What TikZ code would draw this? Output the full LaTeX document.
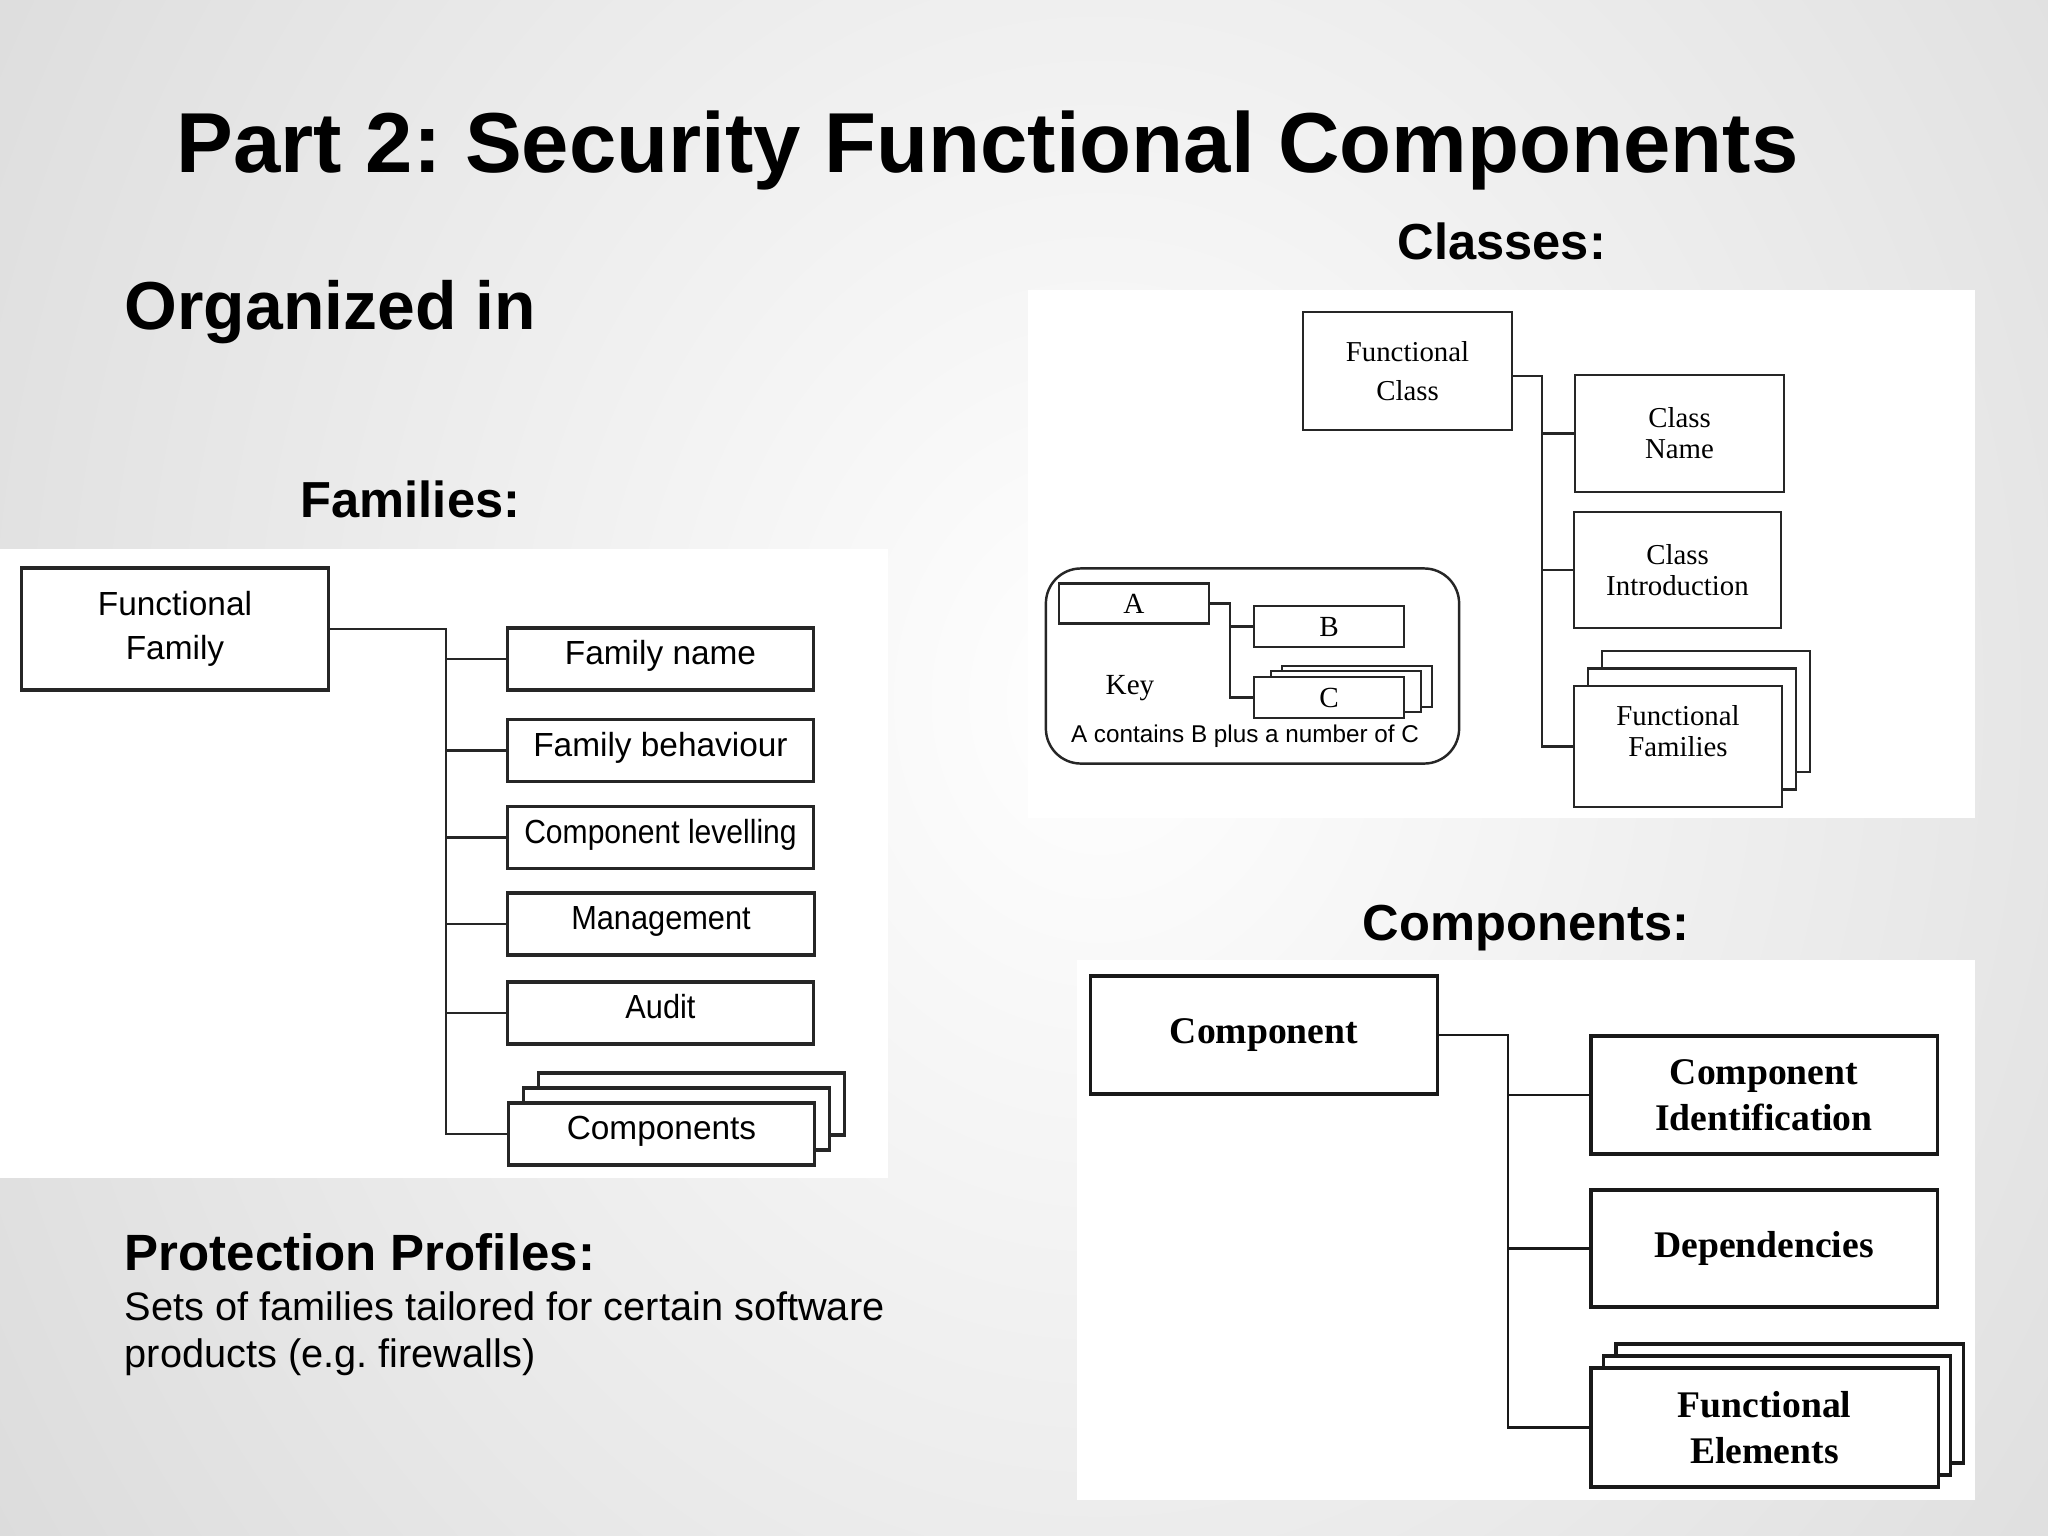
\documentclass[tikz,border=0pt]{standalone}
\usepackage{fontspec}
\setmainfont{Liberation Sans}
\newfontfamily\tnr{Liberation Serif}
\usetikzlibrary{calc}
\frenchspacing
\begin{document}
\begin{tikzpicture}[x=0.01cm,y=-0.01cm,
  panel/.style={fill=white,draw=none},
  hd/.style={anchor=base west,inner sep=0pt,font=\bfseries\fontsize{14.4pt}{17pt}\selectfont},
  fbox/.style={draw=black!85,line width=0.9pt,fill=white,inner sep=0pt,minimum width=3.06cm,minimum height=0.62cm,font=\fontsize{9.5pt}{12.6pt}\selectfont,align=center},
  cbox/.style={draw=black!85,line width=0.7pt,fill=white,inner sep=0pt,minimum width=2.08cm,minimum height=1.17cm,font=\tnr\fontsize{8.2pt}{8.8pt}\selectfont,align=center},
  kbox/.style={draw=black!85,line width=0.6pt,fill=white,inner sep=0pt,minimum width=1.5cm,minimum height=0.4cm,font=\tnr\fontsize{8.3pt}{9pt}\selectfont},
  pbox/.style={draw=black!90,line width=0.9pt,fill=white,inner sep=0pt,minimum width=3.46cm,minimum height=1.18cm,font=\tnr\bfseries\fontsize{10.7pt}{13pt}\selectfont,align=center},
  fconn/.style={draw=black!85,line width=0.8pt},
  cconn/.style={draw=black!85,line width=0.6pt},
  pconn/.style={draw=black!90,line width=0.8pt}
]
\useasboundingbox (0,0) rectangle (2048,1536);
% background
\begin{scope}
\clip (0,0) rectangle (2048,1536);
\fill[black!22] (0,0) rectangle (2048,1536);
\shade[inner color=white,outer color=black!24] (1100-2300,700-2700) rectangle (1100+2300,700+2700);
\end{scope}

% titles
\node[anchor=base west,inner sep=0pt,font=\bfseries\fontsize{24.2pt}{29pt}\selectfont] (title) at (176,172) {Part 2: Security Functional Components};
\node[anchor=base west,inner sep=0pt,font=\bfseries\fontsize{19.3pt}{23pt}\selectfont] (org) at (124,329) {Organized in};
\node[hd] (famh) at (300,517) {Families:};
\node[hd] (clah) at (1397,259) {Classes:};
\node[hd] (comh) at (1362,940) {Components:};
\node[hd,font=\bfseries\fontsize{14.5pt}{17pt}\selectfont] (pph) at (124,1270) {Protection Profiles:};
\node[anchor=base west,inner sep=0pt,font=\fontsize{11.3pt}{13.4pt}\selectfont] (pp1) at (124,1320) {Sets of families tailored for certain software};
\node[anchor=base west,inner sep=0pt,font=\fontsize{11.3pt}{13.4pt}\selectfont] (pp2) at (124,1367) {products (e.g. firewalls)};

% ---------------- Families panel
\fill[panel] (0,549) rectangle (888,1178);
\node[fbox,minimum width=3.06cm,minimum height=1.22cm] (ff) at (175,629) {Functional\\Family};
\node[fbox] (fn) at (660.5,659) {\raisebox{3.5pt}{Family name}};
\node[fbox] (fb) at (660.5,750.5) {\raisebox{3.5pt}{Family behaviour}};
\node[fbox] (fl) at (660.5,837.5) {\raisebox{3.5pt}{\scalebox{0.9}[1]{Component levelling}}};
\node[fbox] (fm) at (661,924) {\raisebox{3.5pt}{\scalebox{0.92}[1]{Management}}};
\node[fbox] (fa) at (660.5,1013) {\raisebox{3.5pt}{\scalebox{0.92}[1]{Audit}}};
\node[fbox] (fc3) at (691.5,1104) {};
\node[fbox] (fc2) at (676.5,1119) {};
\node[fbox] (fc1) at (661.5,1134) {\raisebox{3.5pt}{Components}};
\coordinate (fj) at (446,629);
\draw[fconn] (ff.east) -- (fj) -- (fj |- fc1.west) -- (fc1.west);
\foreach \b in {fn,fb,fl,fm,fa} \draw[fconn] (fj |- \b.west) -- (\b.west);

% ---------------- Classes panel
\fill[panel] (1028,290) rectangle (1975,818);
\node[cbox,minimum width=2.09cm,minimum height=1.18cm,font=\tnr\fontsize{8.2pt}{11pt}\selectfont] (fcl) at (1407.5,371) {Functional\\Class};
\node[cbox,minimum width=2.09cm] (cn) at (1679.5,433.5) {Class\\Name};
\node[cbox,minimum width=2.07cm,minimum height=1.16cm] (ci) at (1677.5,570) {Class\\Introduction};
\node[cbox,minimum width=2.08cm,minimum height=1.21cm] (cf3) at (1706,711.5) {};
\node[cbox,minimum width=2.08cm,minimum height=1.21cm] (cf2) at (1692,729) {};
\node[cbox,minimum width=2.08cm,minimum height=1.21cm] (cf1) at (1678,746.5) {\raisebox{14pt}{\parbox{2cm}{\centering Functional\\Families}}};
\coordinate (cj) at (1542,376);
\draw[cconn] (fcl.east |- cj) -- (cj) -- (cj |- cf1.west) -- (cf1.west);
\foreach \b in {cn,ci} \draw[cconn] (cj |- \b.west) -- (\b.west);

% key
\node[draw=black!85,line width=0.7pt,rounded corners=0.35cm,fill=white,minimum width=4.13cm,minimum height=1.95cm,inner sep=0pt] (key) at (1252.5,666) {};
\node[kbox] (ka) at (1134,603.5) {A};
\node[kbox,minimum height=0.41cm] (kb) at (1329,626.5) {B};
\node[kbox,minimum height=0.41cm] (kc3) at (1357,686.5) {};
\node[kbox,minimum height=0.41cm] (kc2) at (1346,691.5) {};
\node[kbox,minimum height=0.41cm] (kc1) at (1329,697.5) {C};
\node[font=\tnr\fontsize{8.3pt}{9pt}\selectfont,inner sep=0pt] (keyt) at (1130,688) {Key};
\node[font=\fontsize{6.9pt}{8pt}\selectfont,inner sep=0pt] (keyd) at (1245,736) {A contains B plus a number of C};
\coordinate (kj) at (1230,603.5);
\draw[cconn] (ka.east) -- (kj) -- (kj |- kc1.west) -- (kc1.west);
\draw[cconn] (kj |- kb.west) -- (kb.west);

% ---------------- Components panel
\fill[panel] (1077,960) rectangle (1975,1500);
\node[pbox] (pc) at (1264,1035) {Component};
\node[pbox] (pid) at (1764,1095) {Component\\Identification};
\node[pbox,minimum height=1.17cm] (pdep) at (1764,1248.5) {Dependencies};
\node[pbox,minimum width=3.47cm,minimum height=1.19cm] (pf3) at (1789.5,1403.5) {};
\node[pbox,minimum width=3.47cm,minimum height=1.19cm] (pf2) at (1777,1415.5) {};
\node[pbox,minimum width=3.47cm,minimum height=1.19cm] (pf1) at (1764.5,1427.5) {Functional\\Elements};
\coordinate (pj) at (1508,1035);
\draw[pconn] (pc.east) -- (pj) -- (pj |- pf1.west) -- (pf1.west);
\foreach \b in {pid,pdep} \draw[pconn] (pj |- \b.west) -- (\b.west);
\end{tikzpicture}
\end{document}
